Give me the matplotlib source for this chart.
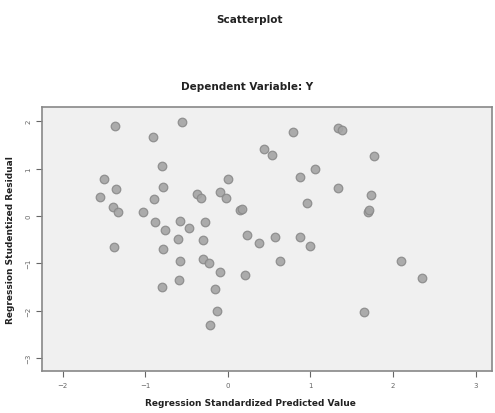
import numpy as np
import matplotlib
matplotlib.use("Agg")
import matplotlib.pyplot as plt

# standardized predicted value (x) and studentized residual (y)
pred = [-1.37, -0.56, -0.91, -0.80, -1.50, -1.36, -1.55, -0.78, -0.90, -1.39,
        -1.33, -1.03, -0.88, -0.58, -0.47, -0.76, -0.60, -1.38, -0.78, -0.58,
        -0.80, -0.59, -0.37, -0.33, -0.10, -0.02, 0.00, 0.15, 0.23, -0.28,
        -0.30, -0.30, -0.23, -0.10, 0.21, -0.16, -0.13, -0.22, 0.79, 1.34,
        1.38, 0.44, 0.54, 1.77, 1.06, 0.87, 1.33, 1.74, 0.96, 1.70,
        1.71, 0.38, 0.57, 0.87, 1.00, 0.63, 2.10, 2.35, 1.65, 0.17]
resid = [1.91, 1.98, 1.66, 1.06, 0.78, 0.57, 0.39, 0.61, 0.35, 0.18,
         0.08, 0.09, -0.12, -0.10, -0.26, -0.29, -0.49, -0.66, -0.70, -0.96,
         -1.51, -1.35, 0.47, 0.38, 0.50, 0.38, 0.77, 0.13, -0.40, -0.12,
         -0.50, -0.91, -0.99, -1.19, -1.24, -1.54, -2.01, -2.30, 1.77, 1.86,
         1.82, 1.42, 1.29, 1.26, 0.99, 0.82, 0.59, 0.45, 0.27, 0.08,
         0.12, -0.58, -0.44, -0.44, -0.63, -0.96, -0.96, -1.31, -2.04, 0.15]

xticks = [-2, -1, 0, 1, 2, 3]
yticks = [2, 1, 0, -1, -2, -3]

fig = plt.figure(figsize=(4.95, 4.14), dpi=100)
ax = fig.add_axes([0.085, 0.101, 0.909, 0.638])
ax.set_facecolor("#f0f0f0")

ax.scatter(pred, resid, s=38, facecolor="#a4a4a4", edgecolor="#8a8a8a",
           linewidth=0.9, alpha=0.9, zorder=3)

ax.set_xlim(-2.25, 3.2)
ax.set_ylim(-3.28, 2.3)
ax.set_xticks(xticks)
ax.set_yticks(yticks)
ax.tick_params(labelsize=5, colors="#666666", length=4, direction="out")
for lab in ax.get_yticklabels():
    lab.set_rotation(90)
    lab.set_va("center")

for sp in ax.spines.values():
    sp.set_color("#888888")
    sp.set_linewidth(1.2)

ax.set_xlabel("Regression Standardized Predicted Value", fontsize=6.5,
              fontweight="bold", color="#222222", labelpad=6)
ax.xaxis.set_label_coords(0.5 - 17 / 450, -0.10)
ax.set_ylabel("Regression Studentized Residual", fontsize=6.5,
              fontweight="bold", color="#222222", labelpad=8)

fig.text(0.505, 0.952, "Scatterplot", ha="center", va="center", fontsize=7.5,
         fontweight="bold", color="#222222")
fig.text(0.5, 0.79, "Dependent Variable: Y", ha="center", va="center",
         fontsize=7.5, fontweight="bold", color="#222222")

fig.savefig("out.png", dpi=100)
